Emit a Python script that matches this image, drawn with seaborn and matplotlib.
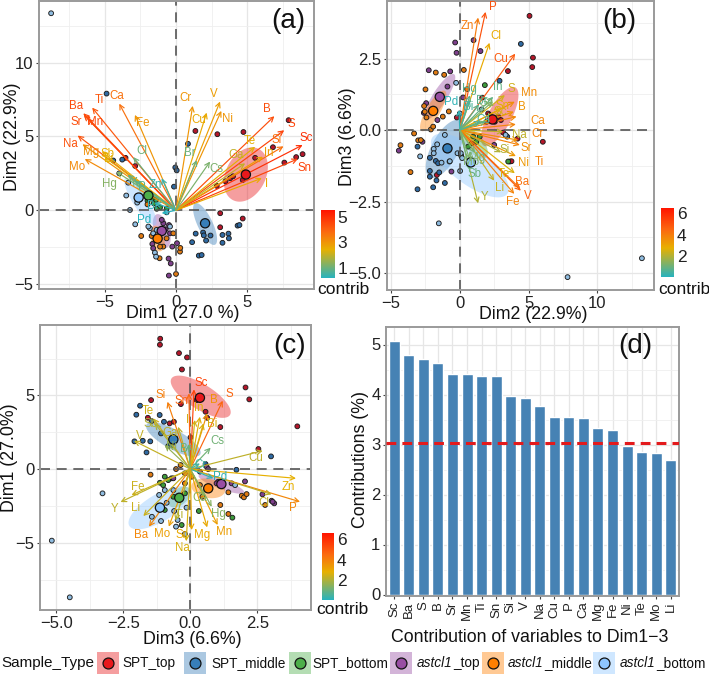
import matplotlib
matplotlib.use("Agg")
import numpy as np
import pandas as pd
import matplotlib.pyplot as plt
import seaborn as sns
from matplotlib.colors import LinearSegmentedColormap, Normalize
from matplotlib.cm import ScalarMappable
from matplotlib.patches import Rectangle

# Sample groups
groups = ["SPT_top", "SPT_middle", "SPT_bottom", "astcl1_top", "astcl1_middle", "astcl1_bottom"]
fill_colors = ["#E8181C", "#377EB8", "#4DAF4A", "#984EA3", "#FF7F00", "#8EC6FF"]
point_colors = ["#B5162A", "#2F6AA3", "#3C9A3A", "#7E3F8C", "#E07A12", "#8FBCE0"]

# Panel (a): individuals on Dim1 / Dim2
a_spt_top = [(1.36,5.37),(2.9,5.15),(4.73,5.3),(7.9,6.1),(6.8,4.27),(7.6,3.23),(8.43,3.6),(8.88,3.8),(5.55,3.55),
             (2.86,1.65),(3.47,1.96),(3.8,2.17),(4.68,2.05),(4.0,2.3),(3.1,-0.2),(3.1,-1.15),(4.68,-0.56),(-2.86,3.0),(-3.54,3.55)]
a_spt_middle = [(0.84,4.5),(-4.87,7.9),(-0.05,2.9),(0.05,2.7),(-0.14,1.6),(1.38,-1.58),(1.9,-1.51),(1.95,-1.7),(2.42,-1.71),
                (2.11,-2.05),(1.13,-2.16),(1.6,-3.07),(1.8,-3.03),(3.26,-1.67),(3.68,-1.58),(3.71,-1.9),(3.26,-2.2),(4.32,-1.04),
                (4.45,-1.0),(-3.77,3.43),(-4.4,3.37)]
a_spt_bottom = [(-1.55,0.47),(-1.12,0.2),(-0.65,0.13),(-1.4,0.7),(-1.35,0.1),(-1.7,0.8),(-2.0,0.65)]
a_astcl1_top = [(-0.5,-4.42),(-0.52,-3.27),(-0.37,-3.6),(-0.26,-2.46),(0.07,-2.23),(-1.66,-2.28),(-1.6,-2.57),(-0.89,-0.88),
                (-1.0,-0.65),(-0.42,-1.56),(-0.49,-1.0),(-0.73,-1.29)]
a_astcl1_middle = [(0.0,-4.31),(0.28,-2.8),(0.3,-2.55),(-1.15,-3.25),(-2.44,-1.74),(-1.71,-1.74),(-0.89,-2.46),(-1.12,-2.46),
                   (-0.19,-1.56),(-0.66,-1.9),(-2.0,0.4)]
a_astcl1_bottom = [(-8.76,13.34),(-2.86,-0.95),(-3.23,0.02),(-3.49,1.0),(-2.72,0.52),(-3.98,2.5),(-3.35,1.87),(-1.48,-2.87),
                   (-1.4,-3.14),(-0.66,-0.14),(-0.42,-1.1),(-1.83,-1.22),(-1.94,-1.1),(-1.6,-1.56),(-1.36,-1.33)]
a_mean_x = [4.9, 2.04, -1.94, -1.0, -1.29, -2.62]
a_mean_y = [2.42, -0.88, 1.0, -1.4, -1.92, 0.86]
a_ellipses = [(4.9,2.42,0.89,1.74,1.26,-0.59),(2.04,-0.93,0.70,-1.40,0.47,0.23),(-1.94,1.0,0.94,-1.02,0.23,0.23),
              (-1.0,-1.4,0.35,-1.13,0.52,0.16),(-1.29,-1.92,0.19,-0.86,0.47,0.09),(-2.5,0.6,1.05,-1.58,0.42,0.27)]

# Panel (a): variable loadings
a_vars = ["Ba","Ti","Ca","Sr","Mn","Fe","Na","Mg","Sb","Li","Mo","Hg","Cl","Y","P","Zn","Pd","Bi",
          "Cr","Cu","V","Ni","B","S","Si","Sc","Sn","In","Te","Ga","I","Cs","Br"]
a_tip_x = [-6.5,-5.88,-3.98,-6.46,-6.23,-2.88,-6.9,-6.56,-5.2,-5.0,-6.4,-4.17,-3.0,-3.4,-2.9,-1.0,-1.0,-1.5,
           1.17,2.15,3.09,3.18,6.9,7.59,7.54,8.88,8.55,6.1,5.55,4.85,6.02,2.39,1.45]
a_tip_y = [6.57,6.95,7.22,6.46,6.23,6.46,5.06,4.47,3.97,3.6,3.47,2.6,3.6,2.4,2.0,2.17,-0.2,0.5,
           7.07,6.61,7.36,6.73,6.37,5.42,4.33,4.42,3.48,3.63,4.3,3.18,2.17,3.3,3.4]
a_contrib = [4.5,4.2,3.7,4.4,4.5,3.0,4.3,3.1,2.5,2.4,3.2,1.3,1.0,0.9,0.8,0.4,0.2,0.3,
             3.0,2.6,2.8,3.0,4.4,4.6,3.7,5.0,4.6,2.8,2.4,2.0,2.6,1.2,1.0]
a_label_x = [-7.03,-5.36,-4.17,-7.0,-5.69,-2.3,-7.42,-5.97,-4.82,-4.75,-6.91,-4.64,-2.39,-3.0,-2.41,-1.48,-2.25,-1.7,
             0.7,1.57,2.62,3.63,6.39,8.08,7.05,9.13,9.02,6.49,5.2,4.19,6.32,2.86,0.94]
a_label_y = [7.09,7.47,7.72,5.96,6.0,5.94,4.49,3.93,3.79,3.45,2.93,1.76,4.04,1.87,1.6,1.72,-0.65,0.3,
             7.61,6.12,7.86,6.19,6.86,5.85,4.79,4.88,2.89,3.86,4.72,3.72,1.78,2.8,3.9]

# Panel (b): individuals on Dim2 / Dim3
b_spt_top = [(5.07,3.99),(5.32,2.53),(5.27,2.2),(3.5,2.06),(6.04,-0.41),(4.2,-0.3),(3.16,-0.09),(1.63,1.13),(-0.22,0.44),
             (-1.67,-1.57),(3.64,-1.1),(3.76,-1.09),(2.06,0.58),(2.18,0.52),(1.94,0.29),(2.79,0.47),(2.99,0.35),(2.55,0.29)]
b_spt_middle = [(4.44,3.01),(2.89,1.72),(-3.08,-2.07),(-1.94,-2.0),(-1.09,-1.85),(-1.7,-1.76),(-2.18,-1.63),(-2.18,-1.43),
                (-1.5,-1.48),(-1.75,-1.08),(-2.18,-0.97),(-3.08,-0.58),(3.45,-0.23),(-1.58,-1.16)]
b_spt_bottom = [(1.82,1.57),(3.52,-1.1),(-0.75,-1.1),(0.1,-0.9),(0.85,-0.47),(1.2,-0.41),(1.45,-0.23),(0.97,-0.23),(0.6,-0.58)]
b_astcl1_top = [(1.0,3.14),(1.5,2.76),(-0.34,3.06),(-0.24,2.7),(-2.26,2.09),(-0.7,2.05),(-0.9,1.52),(-2.45,0.94),(-2.62,0.6),
                (0.24,1.14),(-4.44,-0.72),(-2.72,-0.41),(-0.61,-1.45),(-1.63,0.35),(2.5,-0.52)]
b_astcl1_middle = [(0.29,2.1),(-1.14,1.93),(-1.75,2.01),(-2.5,1.42),(0.53,1.43),(-2.6,0.84),(-2.55,0.64),(-2.43,0.44),(-0.8,0.65),
                   (-1.24,0.47),(-4.32,-0.53),(-3.33,-0.12),(-3.03,-0.36),(-2.84,-0.35),(-3.59,-1.47),(-2.11,0.02),(-1.94,0.12)]
b_astcl1_bottom = [(-1.53,-3.26),(7.84,-5.14),(13.25,-4.48),(-0.27,1.65),(-2.89,-0.92),(0.02,-1.43),(-0.73,-1.09),(-1.9,-0.66),
                   (-1.65,-0.5),(-1.09,-0.17),(-0.17,-0.81),(0.07,-0.81),(0.17,-0.98),(0.0,0.58),(1.58,0.72),(3.33,-0.17),
                   (-1.33,-1.14),(-1.9,-0.81)]
# The SPT_bottom centroid is not shown in this projection
b_mean_x = [2.38, -0.9, np.nan, -1.46, -1.94, 0.8]
b_mean_y = [0.37, -0.64, np.nan, 1.16, 0.67, -1.13]
b_ellipses = [(2.9,0.47,1.14,1.02,0.75,-0.19),(-1.09,-0.66,1.09,0.99,0.87,-0.22),(1.09,-0.47,0.73,-0.52,0.61,0.12),
              (-1.46,1.16,1.04,0.79,0.44,-0.13),(-1.94,0.67,0.85,0.7,0.44,-0.12),(0.73,-1.24,2.72,-0.99,0.8,0.51)]

# Panel (b): variable loadings
b_vars = ["P","Zn","Cl","Cu","S","In","Hg","Bi","Pd","Mn","B","Ca","Cr","Na","Sr","Ti","Si","Ni","Te","Ba","V",
          "Fe","Li","Y","Sb","Mg","Mo","Sn","Sc","Ga","I","Br","Cs"]
b_tip_x = [1.87,1.33,2.16,4.03,3.28,2.43,0.73,0.73,-0.07,4.0,3.93,4.13,4.08,3.16,4.25,4.37,3.0,4.08,4.0,4.37,4.44,
           3.96,2.5,1.33,0.73,1.1,0.7,3.0,2.8,2.4,1.9,1.4,1.5]
b_tip_y = [4.13,3.93,3.05,2.67,1.22,1.16,1.22,1.05,0.7,0.99,0.64,0.47,0.2,-0.06,-0.35,-0.52,-0.78,-0.91,-1.51,-2.03,-2.12,
           -2.23,-1.77,-2.56,-1.4,-0.8,-1.0,0.75,0.5,1.0,0.3,0.9,0.3]
b_contrib = [5.0,4.0,2.9,4.8,2.4,0.9,0.8,0.6,0.2,3.6,3.4,3.7,3.8,2.2,3.5,3.8,2.0,3.3,2.6,4.2,4.6,
             3.8,2.3,2.0,1.0,1.2,1.3,2.7,2.5,1.3,1.2,0.8,0.6]
b_label_x = [2.38,0.53,2.65,3.01,3.76,2.79,0.73,0.6,-0.6,5.05,4.49,5.7,5.66,4.3,4.85,5.75,3.23,4.61,3.23,4.54,4.93,
             3.83,2.91,1.82,1.09,1.29,0.85,3.1,2.95,1.9,2.1,1.6,1.7]
b_label_y = [4.3,3.64,3.3,2.47,1.43,1.49,1.45,0.81,0.97,1.28,0.81,0.33,-0.15,-0.17,-0.64,-1.1,-0.7,-1.16,-1.53,-1.83,-2.29,
             -2.5,-2.03,-2.33,-1.53,-0.99,-1.1,0.85,0.62,0.95,0.4,1.0,0.35]

# Panel (c): individuals on Dim3 / Dim1
c_spt_top = [(-1.12,8.85),(-1.13,8.44),(-0.42,7.87),(-0.12,7.58),(-0.31,6.76),(2.06,5.54),(2.2,4.73),(3.99,2.9),(2.54,1.36),
             (1.12,2.85),(0.63,3.48),(0.57,3.89),(-1.46,4.68),(-1.58,3.48),(-0.77,3.1),(-0.61,3.21),(-0.35,4.41),(0.24,4.68),(0.01,2.15)]
c_spt_middle = [(-1.87,4.3),(-2.01,3.69),(-1.44,3.26),(-1.14,3.67),(-0.98,3.21),(-1.77,1.92),(-1.49,1.88),(-1.63,1.13),
                (-2.08,1.88),(-1.09,2.42),(3.01,0.86),(1.72,-0.05),(0.57,0.34),(-0.82,1.56),(-0.7,1.63)]
c_spt_bottom = [(-1.13,-0.93),(-1.01,-1.09),(-0.95,-0.52),(-0.7,-0.63),(-0.82,-0.75),(0.32,-2.85),(1.57,-3.3),(-0.32,-3.8),
                (-0.95,-2.78),(-0.63,-1.88),(-0.2,-1.65)]
c_astcl1_top = [(2.04,-0.84),(2.69,-1.72),(3.03,-2.15),(3.13,-2.33),(3.07,-2.22),(0.61,0.16),(0.67,0.0),(0.36,-0.18),
                (1.04,-0.86),(0.98,-0.97),(1.54,-0.97),(-0.63,-0.63)]
c_astcl1_middle = [(-1.48,-0.38),(-0.36,0.27),(-0.53,0.0),(1.92,-1.81),(2.0,-1.92),(2.1,-1.7),(2.79,-2.44),(1.42,-1.58),
                   (1.12,-2.44),(1.42,-3.05),(0.45,-1.88),(-0.2,-0.29),(0.05,-0.52),(-0.2,-0.97),(0.36,-1.09)]
c_astcl1_bottom = [(-5.16,-4.86),(-4.49,-8.71),(-3.27,-1.65),(-1.43,-3.24),(-0.2,-4.41),(-0.47,-3.46),(-0.53,-3.91),(-1.09,-3.53),
                   (-0.6,-2.85),(-0.88,-2.29),(-1.16,-1.76),(-0.95,-1.43),(-0.14,-2.62),(1.67,-1.09),(-0.63,-1.43)]
c_mean_x = [0.36, -0.63, -0.41, 1.16, 0.67, -1.13]
c_mean_y = [4.84, 2.01, -1.95, -1.02, -1.31, -2.62]
c_ellipses = [(0.39,4.91,1.09,-1.24,0.25,0.72),(-0.63,2.01,1.0,-1.02,0.19,0.57),(-0.41,-1.9,0.37,0.57,0.19,-0.41),
              (1.16,-1.02,0.85,-0.57,0.06,0.32),(0.67,-1.31,0.62,-0.23,0.09,0.63),(-1.13,-2.62,1.14,1.24,0.27,-0.79)]

# Panel (c): variable loadings
c_vars = ["Sc","S","Sn","Si","B","In","I","Bi","Cs","Br","Te","Sb","Ga","V","Ni","Cu","Cr","Zn","P","Cl","Pd",
          "Hg","Mn","Mg","Ca","Na","Sr","Ba","Mo","Li","Y","Fe","Ti"]
c_tip_x = [0.14,1.21,-0.05,-0.85,0.63,0.36,0.17,0.49,0.76,-0.07,-1.38,-1.32,-0.45,-2.1,-0.95,2.7,0.36,3.94,4.09,3.03,0.86,
           0.8,1.02,0.63,0.53,-0.15,0.05,-1.54,-0.8,-1.75,-2.6,-2.19,-0.55]
c_tip_y = [5.41,4.64,5.14,4.57,3.78,3.55,3.33,3.1,1.45,1.7,3.44,3.1,2.87,1.92,1.63,1.24,0.38,-0.63,-2.22,-1.72,-0.63,
           -2.56,-3.8,-3.96,-1.85,-4.9,-4.14,-3.91,-3.91,-3.19,-2.24,-1.76,-3.5]
c_contrib = [5.4,4.6,4.6,4.0,3.5,2.7,2.5,2.6,1.1,1.0,2.5,2.0,2.2,2.3,1.6,2.2,0.5,2.8,3.8,2.2,0.2,
             1.4,3.2,3.0,1.5,2.6,3.0,3.8,3.2,2.4,2.2,2.4,2.1]
c_label_x = [0.42,1.44,-0.32,-1.09,0.88,0.3,-0.1,0.83,1.01,-0.17,-1.57,-1.5,-0.76,-1.9,-0.7,2.43,0.4,3.66,3.81,2.76,1.11,
             1.04,1.27,0.46,0.37,-0.29,-0.32,-1.82,-1.04,-2.03,-2.82,-1.97,-0.39]
c_label_y = [5.86,5.07,4.62,5.02,4.68,4.12,3.33,3.05,1.92,1.36,3.96,3.05,2.47,2.26,1.52,0.72,0.27,-1.2,-2.62,-2.29,-0.57,
             -3.05,-4.3,-4.5,-1.95,-5.38,-4.48,-4.48,-4.41,-2.67,-2.71,-1.24,-3.12]

# Panel (d): total contribution of the leading variables
bar_names = ["Sc","Ba","S","B","Sr","Mn","Ti","Sn","Si","V","Na","Cu","P","Ca","Mg","Fe","Ni","Te","Mo","Li"]
bar_values = [5.07,4.80,4.71,4.63,4.42,4.41,4.36,4.36,3.98,3.94,3.78,3.56,3.55,3.54,3.34,3.30,2.97,2.85,2.84,2.69]
reference_line = 3.03

W, H = 709, 675
sns.set_theme(style="whitegrid", rc={"grid.color": "#ebebeb", "axes.edgecolor": "#9a9a9a",
                                     "axes.linewidth": 1.4, "text.color": "#111111",
                                     "xtick.color": "#222222", "ytick.color": "#222222",
                                     "axes.labelcolor": "#111111"})
plt.rcParams["font.family"] = ["Liberation Sans", "DejaVu Sans"]

contrib_cmap = LinearSegmentedColormap.from_list(
    "contrib", [(0, "#27B2BE"), (0.42, "#E7B000"), (0.68, "#FB6A10"), (1, "#FF1400")])

fig = plt.figure(figsize=(W / 100, H / 100), dpi=100, facecolor="white")


def axes_at(left, top, right, bottom, **kw):
    return fig.add_axes([left / W, 1 - bottom / H, (right - left) / W, (bottom - top) / H], **kw)


def place_labels(ax, box, xlabel, xpos, ylabel, ypos):
    left, top, right, bottom = box
    ax.set_xlabel(xlabel, fontsize=12.8, va="center", ha="center")
    ax.set_ylabel(ylabel, fontsize=12.8, va="center", ha="center")
    ax.xaxis.set_label_coords((xpos[0] - left) / (right - left), (bottom - xpos[1]) / (bottom - top))
    ax.yaxis.set_label_coords((ypos[0] - left) / (right - left), (bottom - ypos[1]) / (bottom - top))


def style_ticks(ax, xmajor, xminor, ymajor, yminor, decimals_x=0, decimals_y=0):
    fmt = lambda v, d: f"{v:.{d}f}".replace("-", "\u2212")
    ax.set_xticks(xmajor, [fmt(v, decimals_x) for v in xmajor])
    ax.set_yticks(ymajor, [fmt(v, decimals_y) for v in ymajor])
    ax.set_xticks(xminor, minor=True)
    ax.set_yticks(yminor, minor=True)
    ax.grid(which="major", color="#e6e6e6", lw=0.9)
    ax.grid(which="minor", color="#efefef", lw=0.6)
    ax.tick_params(axis="both", which="major", bottom=True, left=True, length=2.5, width=0.8,
                   labelsize=12, pad=1.5, color="#444444")
    ax.tick_params(axis="both", which="minor", length=0)
    ax.set_axisbelow(True)


def biplot(ax, point_sets, mean_x, mean_y, ellipses, names, tip_x, tip_y, contrib, label_x, label_y, norm):
    t = np.linspace(0, 2 * np.pi, 120)
    for (cx, cy, ax_x, ax_y, bx_x, bx_y), col in zip(ellipses, fill_colors):
        ax.fill(cx + ax_x * np.cos(t) + bx_x * np.sin(t), cy + ax_y * np.cos(t) + bx_y * np.sin(t),
                color=col, alpha=0.42, lw=0, zorder=1.5)
    rows = [(g, x, y) for g, pts in zip(groups, point_sets) for x, y in pts]
    points = pd.DataFrame(rows, columns=["Sample_Type", "x", "y"])
    sns.scatterplot(data=points, x="x", y="y", hue="Sample_Type", hue_order=groups,
                    palette=dict(zip(groups, point_colors)), s=12, edgecolor="#1c1c1c", linewidth=0.65,
                    legend=False, ax=ax, zorder=2)
    ax.axhline(0, color="#555555", lw=1.2, dashes=(6, 4), zorder=2.2)
    ax.axvline(0, color="#555555", lw=1.2, dashes=(6, 4), zorder=2.2)
    for name, tx, ty, c, lx, ly in zip(names, tip_x, tip_y, contrib, label_x, label_y):
        col = contrib_cmap(norm(c))
        ax.annotate("", xy=(tx, ty), xytext=(0, 0), zorder=3,
                    arrowprops=dict(arrowstyle="->,head_length=0.28,head_width=0.14", color=col, lw=0.85,
                                    shrinkA=0, shrinkB=0))
        ax.text(lx, ly, name, color=col, fontsize=8.3, ha="center", va="center", zorder=5)
    means = pd.DataFrame({"Sample_Type": groups, "x": mean_x, "y": mean_y}).dropna()
    sns.scatterplot(data=means, x="x", y="y", hue="Sample_Type", hue_order=groups,
                    palette=dict(zip(groups, fill_colors)), s=44, edgecolor="#111111", linewidth=0.9,
                    legend=False, ax=ax, zorder=4)


def contrib_bar(left, top, right, bottom, norm, ticks, text_xy):
    cax = axes_at(left, top, right, bottom)
    cb = fig.colorbar(ScalarMappable(norm=norm, cmap=contrib_cmap), cax=cax)
    cb.outline.set_visible(False)
    cb.set_ticks(ticks)
    cax.grid(False)
    cax.tick_params(axis="y", direction="in", color="white", length=2.5, width=0.7, labelsize=12.5,
                    pad=2, right=True, left=False)
    fig.text(text_xy[0] / W, 1 - text_xy[1] / H, "contrib", fontsize=12.5, ha="left", va="center", color="#111111")


# (a)
box_a = (39, 1, 314, 289)
ax_a = axes_at(*box_a)
norm_a = Normalize(0.2, 5.55)
biplot(ax_a, [a_spt_top, a_spt_middle, a_spt_bottom, a_astcl1_top, a_astcl1_middle, a_astcl1_bottom],
       a_mean_x, a_mean_y, a_ellipses, a_vars, a_tip_x, a_tip_y, a_contrib, a_label_x, a_label_y, norm_a)
ax_a.set_xlim(-9.61, 9.68)
ax_a.set_ylim(-5.33, 14.17)
style_ticks(ax_a, [-5, 0, 5], [-7.5, -2.5, 2.5, 7.5], [-5, 0, 5, 10], [-2.5, 2.5, 7.5, 12.5])
place_labels(ax_a, box_a, "Dim1 (27.0 %)", (183, 313), "Dim2 (22.9%)", (13, 137))
ax_a.text(0.905, 0.93, "(a)", transform=ax_a.transAxes, fontsize=20, ha="center", va="center", color="#111111")
contrib_bar(321, 210, 335, 278, norm_a, [1, 3, 5], (317, 290))

# (b)
box_b = (387, 1, 654, 290)
ax_b = axes_at(*box_b)
norm_b = Normalize(0.05, 6.48)
biplot(ax_b, [b_spt_top, b_spt_middle, b_spt_bottom, b_astcl1_top, b_astcl1_middle, b_astcl1_bottom],
       b_mean_x, b_mean_y, b_ellipses, b_vars, b_tip_x, b_tip_y, b_contrib, b_label_x, b_label_y, norm_b)
ax_b.set_xlim(-5.3, 14.13)
ax_b.set_ylim(-5.59, 4.51)
style_ticks(ax_b, [-5, 0, 5, 10], [-2.5, 2.5, 7.5, 12.5], [-5, -2.5, 0, 2.5], [-3.75, -1.25, 1.25, 3.75], decimals_y=1)
place_labels(ax_b, box_b, "Dim2 (22.9%)", (533, 315), "Dim3 (6.6%)", (348, 137))
ax_b.text(0.87, 0.93, "(b)", transform=ax_b.transAxes, fontsize=20, ha="center", va="center", color="#111111")
contrib_bar(661, 208, 674, 277, norm_b, [2, 4, 6], (658, 290))

# (c)
box_c = (40, 325, 311, 610)
ax_c = axes_at(*box_c)
norm_c = Normalize(0.05, 6.6)
biplot(ax_c, [c_spt_top, c_spt_middle, c_spt_bottom, c_astcl1_top, c_astcl1_middle, c_astcl1_bottom],
       c_mean_x, c_mean_y, c_ellipses, c_vars, c_tip_x, c_tip_y, c_contrib, c_label_x, c_label_y, norm_c)
ax_c.set_xlim(-5.6, 4.5)
ax_c.set_ylim(-9.57, 9.78)
style_ticks(ax_c, [-5, -2.5, 0, 2.5], [-3.75, -1.25, 1.25, 3.75], [-5, 0, 5], [-7.5, -2.5, 2.5, 7.5], decimals_x=1)
place_labels(ax_c, box_c, "Dim3 (6.6%)", (192, 639), "Dim1 (27.0%)", (10, 458))
ax_c.text(0.92, 0.925, "(c)", transform=ax_c.transAxes, fontsize=20, ha="center", va="center", color="#111111")
contrib_bar(322, 533, 334, 600, norm_c, [2, 4, 6], (316, 610))

# (d)
box_d = (386, 327, 679, 596)
ax_d = axes_at(*box_d)
sns.barplot(x=bar_names, y=bar_values, color="#4682B4", saturation=1, width=0.76, ax=ax_d, zorder=2)
ax_d.axhline(reference_line, color="#E31A1C", lw=2.2, dashes=(3.2, 2.0), zorder=3)
ax_d.set_xlim(-0.57, 19.57)
ax_d.set_ylim(-0.03, 5.35)
ax_d.set_yticks(range(6))
ax_d.set_yticks(np.arange(0.5, 5.5, 1.0), minor=True)
ax_d.grid(which="major", color="#e6e6e6", lw=0.9)
ax_d.grid(which="minor", axis="y", color="#efefef", lw=0.6)
ax_d.tick_params(axis="y", which="major", left=True, length=2.5, width=0.8, labelsize=12, pad=1.5, color="#444444")
ax_d.tick_params(axis="y", which="minor", length=0)
ax_d.tick_params(axis="x", bottom=True, length=2.5, width=0.8, labelsize=9.5, labelrotation=90, pad=1.5, color="#444444")
ax_d.set_axisbelow(True)
place_labels(ax_d, box_d, "Contribution of variables to Dim1\u22123", (530, 637), "Contributions (%)", (360, 460))
ax_d.text(0.85, 0.93, "(d)", transform=ax_d.transAxes, fontsize=20, ha="center", va="center", color="#111111")

# Shared legend along the bottom edge
leg = fig.add_axes([0, 0, 1, 1], zorder=10)
leg.set_xlim(0, W)
leg.set_ylim(H, 0)
leg.axis("off")
leg.text(1, 663, "Sample_Type", fontsize=11, ha="left", va="center", color="#111111")
key_x = [108, 195, 300, 401, 493, 604]
text_x = [122, 211, 312, 417, 508, 620]
renderer = fig.canvas.get_renderer()
for kx, tx, group, col in zip(key_x, text_x, groups, fill_colors):
    leg.add_patch(Rectangle((kx - 11, 652), 22, 22, facecolor=col, alpha=0.42, lw=0))
    leg.scatter([kx], [663], s=62, color=col, edgecolor="#111111", linewidth=0.9, zorder=3)
    if group.startswith("astcl1"):
        # The gene name is italic, the layer suffix upright
        head = leg.text(tx, 663, "astcl1", fontsize=9.8, style="italic", ha="left", va="center", color="#111111")
        end = head.get_window_extent(renderer).x1
        leg.text(end, 663, group[len("astcl1"):], fontsize=9.8, ha="left", va="center", color="#111111")
    else:
        leg.text(tx, 663, group, fontsize=9.8, ha="left", va="center", color="#111111")

fig.savefig("out.png", dpi=100)
